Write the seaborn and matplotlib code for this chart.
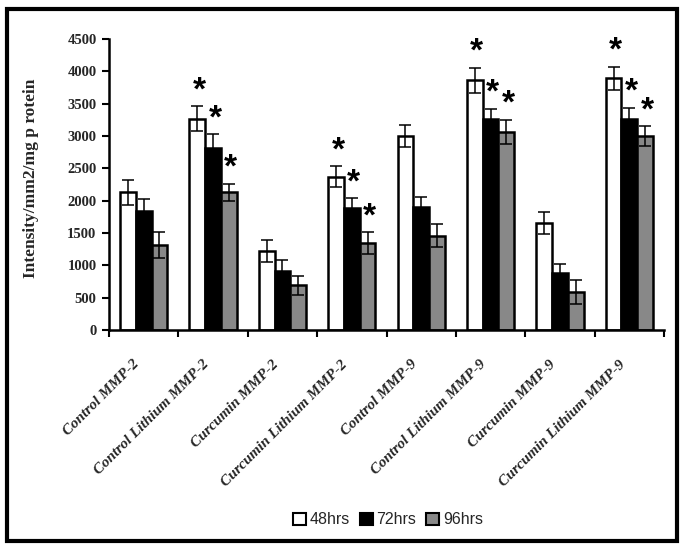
import numpy as np
import pandas as pd
import matplotlib
matplotlib.use("Agg")
import matplotlib.pyplot as plt
import matplotlib.transforms as mtransforms
from matplotlib.patches import Rectangle, Patch
import seaborn as sns

categories = ["Control MMP-2", "Control Lithium MMP-2", "Curcumin MMP-2",
              "Curcumin Lithium MMP-2", "Control MMP-9", "Control Lithium MMP-9",
              "Curcumin MMP-9", "Curcumin Lithium MMP-9"]
times = ["48hrs", "72hrs", "96hrs"]
h48 = [2130, 3270, 1215, 2370, 3000, 3860, 1650, 3890]
h72 = [1840, 2810, 905, 1880, 1900, 3270, 887, 3270]
h96 = [1315, 2130, 690, 1340, 1460, 3065, 585, 3000]
e48 = [195, 190, 170, 160, 170, 195, 170, 180]
e72 = [190, 215, 185, 155, 155, 155, 140, 170]
e96 = [195, 130, 150, 170, 180, 190, 190, 150]
significant = [False, True, False, True, False, True, False, True]
yticks = [0, 500, 1000, 1500, 2000, 2500, 3000, 3500, 4000, 4500]
colors = ["#ffffff", "#000000", "#888888"]

rows = []
for vals, errs, t in [(h48, e48, "48hrs"), (h72, e72, "72hrs"), (h96, e96, "96hrs")]:
    for c, v, e in zip(categories, vals, errs):
        rows.append({"group": c, "time": t, "value": v, "err": e})
df = pd.DataFrame(rows)

sns.set_theme(style="white")
plt.rcParams["font.family"] = ["Liberation Serif", "DejaVu Serif"]

fig = plt.figure(figsize=(6.85, 5.5), dpi=100)
ax = fig.add_axes([109/685, 1-330/550, (664-109)/685, (330-39)/550])

sns.barplot(data=df, x="group", y="value", hue="time", order=categories,
            hue_order=times, palette=colors, width=0.68, errorbar=None,
            edgecolor="black", linewidth=1.8, saturation=1, ax=ax, legend=False)

# error bars and significance stars from the bar patches
bars = [p for p in ax.patches if p.get_height() > 0]
for hi, t in enumerate(times):
    sub = df[df["time"] == t].set_index("group")
    hue_bars = bars[hi*len(categories):(hi+1)*len(categories)]
    for ci, (c, p) in enumerate(zip(categories, hue_bars)):
        xc = p.get_x() + p.get_width()/2
        v = sub.loc[c, "value"]
        e = sub.loc[c, "err"]
        ax.errorbar(xc, v, yerr=e, fmt="none", ecolor="black", elinewidth=1.1,
                    capsize=4, capthick=1.1, zorder=5)
        if significant[ci]:
            ax.text(xc + 2/69.3, v + e + 110, "*", ha="center", va="baseline",
                    fontsize=24, fontweight="bold", family=["Liberation Sans"],
                    color="black")

ax.set_ylim(0, 4500)
ax.set_xlim(-0.5, len(categories) - 0.5)
ax.set_yticks(yticks)
ax.set_yticklabels([str(v) for v in yticks], fontsize=10.5, fontweight="bold")
ax.set_xticks(range(len(categories)))
ax.set_xticklabels(categories, rotation=45, ha="right", va="top",
                   rotation_mode="anchor", fontsize=11, fontweight="bold",
                   fontstyle="italic")
ax.set_xticks(np.arange(-0.5, len(categories) + 0.5, 1), minor=True)
ax.tick_params(axis="x", which="major", length=0, pad=20)
ax.tick_params(axis="x", which="minor", length=5, width=1.5, color="black",
               direction="out", bottom=True)
ax.tick_params(axis="y", length=5, width=1.5, color="black", direction="out",
               left=True, pad=4)
offset = mtransforms.ScaledTranslation(-11/100, 0, fig.dpi_scale_trans)
for lab in ax.get_xticklabels():
    lab.set_transform(lab.get_transform() + offset)

for s in ["top", "right"]:
    ax.spines[s].set_visible(False)
for s in ["left", "bottom"]:
    ax.spines[s].set_color("black")
    ax.spines[s].set_linewidth(1.8)

ax.set_xlabel("")
ax.set_ylabel("Intensity/mm2/mg p rotein", fontsize=12.5, fontweight="bold",
              labelpad=8)
ax.yaxis.set_label_coords(-0.127, 0.52)

handles = [Patch(facecolor=c, edgecolor="black", linewidth=1.5, label=t)
           for c, t in zip(colors, times)]
fig.legend(handles=handles, loc="center", bbox_to_anchor=(388/685, 1-520/550),
           ncol=3, frameon=False, handlelength=0.8, handleheight=0.8,
           handletextpad=0.25, columnspacing=0.6,
           prop={"family": "Liberation Sans", "size": 11.5})

fig.patches.append(Rectangle((7/685, 9/550), 670/685, 532/550,
                             transform=fig.transFigure, fill=False,
                             edgecolor="black", linewidth=3))

fig.savefig("out.png", dpi=100, facecolor="white")
